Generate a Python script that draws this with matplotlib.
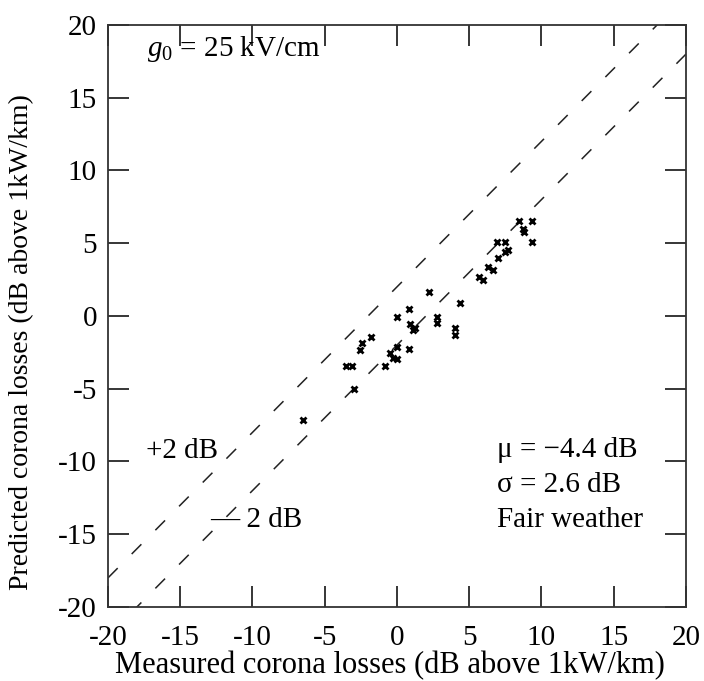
import matplotlib
matplotlib.use("Agg")
import matplotlib.pyplot as plt
import numpy as np

plt.rcParams['font.family'] = ['Liberation Serif', 'DejaVu Serif']
plt.rcParams['mathtext.fontset'] = 'custom'
plt.rcParams['mathtext.rm'] = 'Liberation Serif'
plt.rcParams['mathtext.it'] = 'Liberation Serif:italic'
plt.rcParams['axes.unicode_minus'] = False

measured = [2.24, 4.36, 0.85, -0.02, 2.75, 2.75, 0.89, 1.13, 1.25, 4.01, 4.01,
            -1.80, -2.44, -2.56, 0.02, 0.85, -0.48, -0.26, 0.02, -0.83, -3.53,
            -3.13, -2.98, -6.48,
            8.44, 9.32, 8.74, 8.79, 9.32, 6.94, 7.47, 7.70, 7.47, 7.01, 6.32,
            6.62, 5.70, 5.93]
predicted = [1.63, 0.87, 0.48, -0.09, -0.05, -0.50, -0.55, -0.96, -0.82, -0.80,
             -1.31, -1.46, -1.88, -2.34, -2.11, -2.29, -2.56, -2.91, -2.98,
             -3.44, -3.44, -3.44, -5.04, -7.15,
             6.55, 6.53, 5.96, 5.79, 5.11, 5.11, 5.11, 4.54, 4.42, 4.01, 3.39,
             3.16, 2.70, 2.47]
band_offsets = [2, -2]
ticks = [-20, -15, -10, -5, 0, 5, 10, 15, 20]

fig = plt.figure(figsize=(7.04, 6.81), dpi=100)
ax = fig.add_axes([0.1534, 0.1087, 0.8210, 0.8546])

xs = np.array([-20, 20])
for off in band_offsets:
    ax.plot(xs, xs + off, color='#222222', lw=1.1, dashes=(9, 13))

ax.plot(measured, predicted, linestyle='none', marker='x', color='black',
        ms=4.5, mew=2.0)

ax.set_xlim(-20, 20)
ax.set_ylim(-20, 20)
ax.set_xticks(ticks)
ax.set_yticks(ticks)
ax.tick_params(direction='in', length=15, width=1.1, labelsize=21,
               top=True, right=True, pad=8)
ax.tick_params(axis='x', pad=13)
for s in ax.spines.values():
    s.set_linewidth(1.3)
    s.set_color('#333333')

ax.set_xlabel('Measured corona losses (dB above 1kW/km)', fontsize=22)
ax.set_ylabel('Predicted corona losses (dB above 1kW/km)', fontsize=20)
ax.xaxis.set_label_coords(0.488, -0.075)
ax.yaxis.set_label_coords(-0.128, 0.455)

ax.text(-17.3, 17.9, r'$g_{\mathit{0}}$ = 25 kV/cm', fontsize=21, ha='left', va='baseline')
ax.text(-17.4, -9.3, '+2 dB', fontsize=21, ha='left', va='center')
ax.text(-12.9, -14.0, '\u2014 2 dB', fontsize=21, ha='left', va='center')
ax.text(6.9, -9.2, '\u03bc = \u22124.4 dB', fontsize=21, ha='left', va='center')
ax.text(6.9, -11.6, '\u03c3 = 2.6 dB', fontsize=21, ha='left', va='center')
ax.text(6.9, -14.0, 'Fair weather', fontsize=21, ha='left', va='center')

fig.savefig('out.png', dpi=100)
